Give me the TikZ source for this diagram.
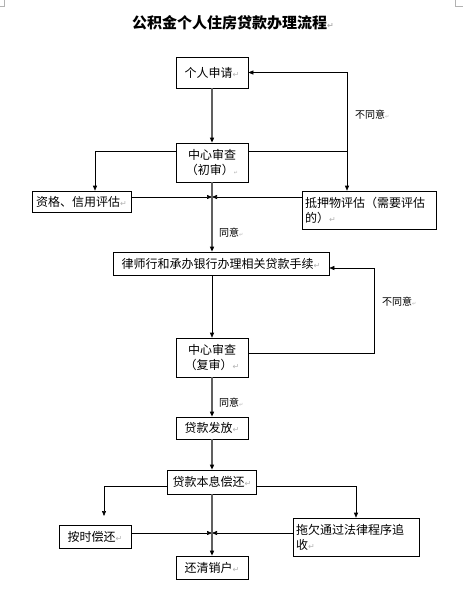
\documentclass[tikz,border=0pt]{standalone}
\usepackage{fontspec}
\setmainfont{Noto Sans CJK SC}
\newfontfamily\symfont{DejaVu Sans}
\usetikzlibrary{arrows.meta}
\newcommand{\pmk}{{\symfont\color{gray!60}\fontsize{8}{8}\selectfont ↵}}
\newcommand{\tmk}{{\symfont\color{gray!60}\fontsize{5}{5}\selectfont ↵}}

\begin{document}
\begin{tikzpicture}[x=1pt,y=-1pt,
  box/.style={draw,line width=.6pt,inner sep=3pt,font=\fontsize{12}{15}\selectfont},
  link/.style={line width=.6pt,-{Triangle[length=5pt,width=4pt]}},
  main/.style={line width=1.4pt,gray!75!black,-{Triangle[length=5pt,width=4pt,black]}},
  note/.style={font=\fontsize{10}{12}\selectfont,anchor=west,inner sep=0pt}]
\useasboundingbox (0,0) rectangle (474,606);
\draw[gray!60] (4,0) -- (4,6) -- (0,6);
\draw[gray!60] (455,0) -- (455,6) -- (463,6);
\node[font=\fontsize{15}{18}\selectfont\bfseries] (title) at (233,23) {公积金个人住房贷款办理流程\pmk};
%
\node[box,minimum width=72,minimum height=31] (req) at (212,72.5) {个人申请\pmk};
\node[box,minimum width=72,minimum height=39,align=center] (chk1) at (212,162.5) {中心审查\\（初审）\tmk};
\node[box,minimum width=99,minimum height=21] (cred) at (81.5,201.5) {资格、信用评估\pmk};
\node[box,text width=128,minimum height=38,align=left] (mort) at (369,210) {抵押物评估（需要评估\\的）\pmk};
\node[box,minimum width=216,minimum height=23] (law) at (221,263.5) {律师行和承办银行办理相关贷款手续\pmk};
\node[box,minimum width=72,minimum height=39,align=center] (chk2) at (212,357.5) {中心审查\\（复审）\pmk};
\node[box,minimum width=72,minimum height=22] (issue) at (212,428) {贷款发放\pmk};
\node[box,minimum width=89,minimum height=24] (repay) at (212,482) {贷款本息偿还\pmk};
\node[box,minimum width=72,minimum height=23] (ontime) at (95,536.5) {按时偿还\pmk};
\node[box,text width=120,minimum height=38,align=left] (overdue) at (356,537) {拖欠通过法律程序追\\收\pmk};
\node[box,minimum width=72,minimum height=23] (close) at (212,567.5) {还清销户\pmk};
%
\coordinate (jl) at (95,151);
\coordinate (jr) at (347,151);
\coordinate (m1) at (212,197);
\coordinate (jb) at (374,353);
\coordinate (jt) at (374,268);
\coordinate (ka) at (104,486);
\coordinate (ke) at (104,516);
\coordinate (kb) at (356,486);
\coordinate (m2) at (212,533);
%
\draw[main] (req.south) -- (chk1.north);
\draw[link] (chk1.west |- jl) -- (jl) -- (jl |- cred.north);
\draw[link] (chk1.east |- jr) -- (jr) -- (jr |- mort.north);
\draw[link] (jr) |- (req.east);
\node[note] (no1) at (355,115) {不同意\tmk};
\draw[link] (cred.east |- m1) -- (m1);
\draw[link] (mort.west |- m1) -- (m1);
\draw[main] (chk1.south) -- (chk1.south |- law.north);
\node[note] (yes1) at (219,233) {同意\tmk};
%
\draw[link] (law.south -| chk2.north) -- (chk2.north);
\draw[link] (chk2.east |- jb) -- (jb) -- (jt) -- (law.east |- jt);
\node[note] (no2) at (382,302) {不同意\tmk};
\draw[main] (chk2.south) -- (issue.north);
\node[note] (yes2) at (219,403) {同意\tmk};
\draw[main] (issue.south) -- (repay.north);
%
\draw[link] (repay.west |- ka) -- (ka) -- (ke);
\draw[link] (repay.east |- kb) -- (kb) -- (kb |- overdue.north);
\draw[link] (ontime.east |- m2) -- (m2);
\draw[link] (overdue.west |- m2) -- (m2);
\draw[main] (repay.south) -- (close.north);
\end{tikzpicture}
\end{document}
